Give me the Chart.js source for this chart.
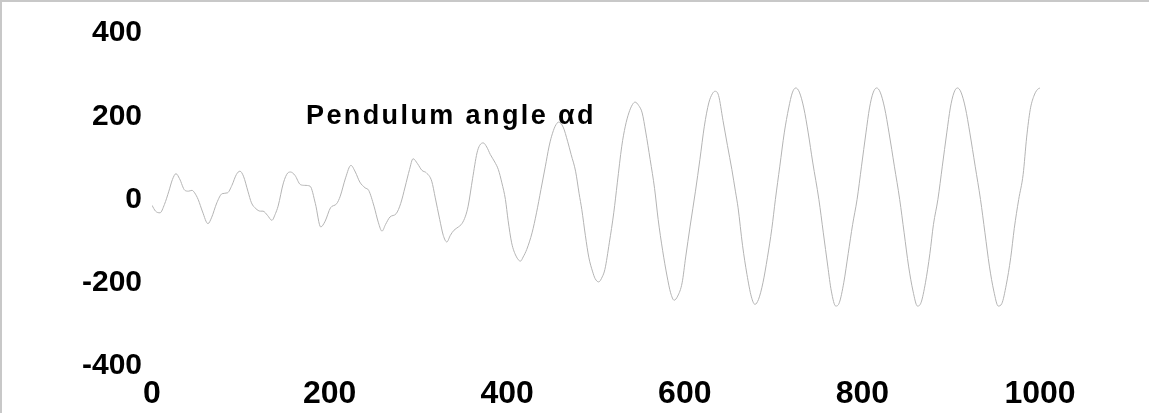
<!DOCTYPE html>
<html><head><meta charset="utf-8">
<script src="https://cdn.jsdelivr.net/npm/chart.js@4"></script>
<style>
html,body{margin:0;padding:0;background:#fff;}
#wrap{position:relative;width:1149px;height:413px;}
#frame{position:absolute;left:0;top:0;width:1149px;height:413px;box-sizing:border-box;border-top:2px solid #c8c8c8;border-left:2px solid #c8c8c8;pointer-events:none;}
canvas{position:absolute;left:0;top:0;}
</style></head><body>
<div id="wrap"><canvas id="c" width="1149" height="413"></canvas><div id="frame"></div></div>
<script>
const titleText = "Pendulum angle αd";
const xTicks = [0, 200, 400, 600, 800, 1000];
const yTicks = [-400, -200, 0, 200, 400];
const timeX = [0,4,9,14,19,23,27,31,37,41,45,48,52,57,63,67,73,79,85,90,95,99,103,108,112,117,122,125,130,135,139,142,148,153,156,161,167,172,178,184,190,195,201,208,212,218,224,229,234,240,244,250,255,259,263,268,275,280,285,290,294,299,304,309,315,319,324,328,332,336,340,345,349,353,356,361,366,369,373,377,381,386,390,394,398,401,405,410,415,418,422,428,433,438,443,447,450,454,458,463,468,472,477,481,484,488,492,496,499,503,507,510,515,520,524,529,533,537,541,544,548,552,556,561,566,570,575,580,584,588,592,597,601,606,612,617,622,627,631,634,638,643,648,653,657,660,665,670,675,679,683,688,693,698,702,707,712,717,721,725,729,734,739,744,751,756,761,765,770,774,779,784,789,794,799,804,808,812,816,820,825,830,836,842,847,852,857,862,866,871,876,880,885,890,895,899,903,907,911,916,921,927,933,938,943,948,953,957,962,967,971,976,981,985,989,993,997,1000];
const angle = [-14,-28,-32,-12,20,48,62,50,22,20,22,16,0,-30,-58,-44,-8,14,16,34,60,68,56,20,-8,-22,-28,-28,-38,-50,-34,-16,40,64,66,58,36,34,32,-10,-66,-52,-20,-10,8,52,82,66,42,28,22,-16,-56,-76,-60,-42,-34,-10,30,72,98,86,70,64,44,4,-48,-86,-102,-86,-74,-66,-58,-40,-16,50,112,130,136,126,108,90,72,40,0,-50,-104,-136,-148,-138,-120,-80,-32,24,80,126,152,176,186,174,140,108,68,14,-24,-86,-140,-172,-190,-198,-186,-168,-104,-32,40,128,176,208,228,234,226,208,162,96,26,-48,-122,-184,-224,-242,-232,-200,-138,-64,20,96,176,232,254,260,250,190,130,72,20,-20,-110,-180,-234,-252,-240,-200,-140,-70,0,80,160,220,256,268,258,220,160,90,0,-80,-160,-220,-256,-248,-200,-130,-60,0,80,160,220,256,268,258,220,160,80,0,-80,-160,-220,-256,-248,-200,-130,-60,0,80,160,220,256,268,258,220,160,80,0,-80,-160,-220,-256,-250,-205,-140,-70,0,60,150,216,248,264,268];

const points = timeX.map((t, i) => ({x: t, y: angle[i]}));

const titlePlugin = {
  id: 'titleText',
  afterDraw(chart) {
    const ctx = chart.ctx, a = chart.chartArea;
    ctx.save();
    ctx.font = 'bold 27px "Liberation Sans", Arial, sans-serif';
    ctx.letterSpacing = '2.4px';
    ctx.fillStyle = '#000';
    ctx.textBaseline = 'alphabetic';
    ctx.fillText(titleText, a.left + 154, a.top + 91);
    ctx.restore();
  }
};

new Chart(document.getElementById('c'), {
  type: 'line',
  data: { datasets: [{ data: points, borderColor: '#b4b4b4', borderWidth: 1, pointRadius: 0, cubicInterpolationMode: 'monotone', fill: false }] },
  options: {
    responsive: false, devicePixelRatio: 1, animation: false,
    layout: { padding: { left: 0, right: 109, top: 33, bottom: 0 } },
    plugins: { legend: { display: false }, tooltip: { enabled: false } },
    scales: {
      x: {
        type: 'linear', min: 0, max: 1000,
        afterBuildTicks(s) { s.ticks = xTicks.map(v => ({value: v})); },
        afterFit(s) { s.height = 47; },
        grid: { display: false, drawTicks: false }, border: { display: false },
        ticks: { color: '#000', padding: 9, maxRotation: 0, callback: v => String(v), font: { family: '"Liberation Sans", Arial, sans-serif', size: 32, weight: 'bold' } }
      },
      y: {
        type: 'linear', min: -400, max: 400,
        afterBuildTicks(s) { s.ticks = yTicks.map(v => ({value: v})); },
        afterFit(s) { s.width = 152; },
        grid: { display: false, drawTicks: false }, border: { display: false },
        ticks: { color: '#000', padding: 10, callback: v => String(v), font: { family: '"Liberation Sans", Arial, sans-serif', size: 30, weight: 'bold' } }
      }
    }
  },
  plugins: [titlePlugin]
});
</script>
</body></html>
